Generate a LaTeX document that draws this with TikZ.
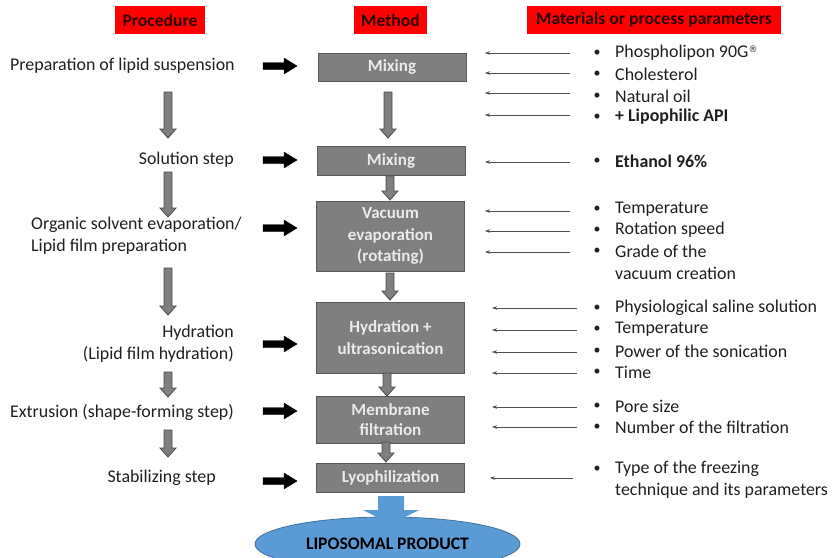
\documentclass[tikz,border=0pt]{standalone}
\usepackage{fontspec}
\setmainfont{Carlito}
\newfontfamily\symfnt{DejaVu Sans}
\usetikzlibrary{arrows.meta,shapes.geometric}
\definecolor{boxgray}{HTML}{7F7F7F}
\definecolor{boxedge}{HTML}{595959}
\definecolor{hdrred}{HTML}{FF0000}
\definecolor{hdrtxt}{HTML}{2A0000}
\definecolor{prodblue}{HTML}{5B9BD5}
\definecolor{prodedge}{HTML}{41719C}
\definecolor{thinline}{HTML}{505050}
\tikzset{
  hdr/.style={fill=hdrred,draw=none,inner sep=0pt,font=\fontsize{17.6}{20}\selectfont\bfseries,text=hdrtxt},
  methbox/.style={fill=boxgray,draw=boxedge,line width=1pt,inner sep=0pt,minimum width=148pt,align=center,
    font=\fontsize{17}{21.5}\selectfont\bfseries,text=white!92!black},
  proc/.style={inner sep=0pt,font=\fontsize{17.9}{22}\selectfont,text=black!88},
  item/.style={inner sep=0pt,anchor=west,font=\fontsize{17.9}{21}\selectfont,text=black!88},
  bul/.style={inner sep=0pt,font=\fontsize{14}{14}\selectfont,text=black!88},
  feed/.style={draw=thinline,line width=0.6pt,-{Stealth[length=5pt,width=3.5pt]}},
  garrow/.style={fill=boxgray,draw=black!70,line width=0.8pt},
  barrow/.style={fill=black,draw=black,line width=0.4pt},
  blarrow/.style={fill=prodblue,draw=none},
}
\newcommand\gdown[3]{\draw[garrow] ({#1-4},#2) -- ({#1+4},#2) -- ({#1+4},{#3-9}) -- ({#1+8},{#3-9}) -- (#1,#3) -- ({#1-8},{#3-9}) -- ({#1-4},{#3-9}) -- cycle;}
\newcommand\bright[1]{\draw[barrow] (263,{#1-3.5}) -- (284,{#1-3.5}) -- (284,{#1-8}) -- (297,#1) -- (284,{#1+8}) -- (284,{#1+3.5}) -- (263,{#1+3.5}) -- cycle;}
\begin{document}
\begin{tikzpicture}[x=1pt,y=-1pt]
\useasboundingbox (0,0) rectangle (834,557);
% headers
\node[hdr,minimum width=90pt,minimum height=28pt] (hproc) at (160,20) {Procedure};
\node[hdr,minimum width=73pt,minimum height=28pt] (hmeth) at (390.5,20) {Method};
\node[hdr,minimum width=254pt,minimum height=28pt] (hmat) at (654,20) {Materials or process parameters};
% method boxes
\node[methbox,minimum height=28pt] (m1) at (392,67) {Mixing};
\node[methbox,minimum height=29pt] (m2) at (391,160.5) {Mixing};
\node[methbox,minimum height=70pt] (m3) at (390.5,236) {Vacuum\\evaporation\\(rotating)};
\node[methbox,minimum height=71pt] (m4) at (390.5,337.5) {Hydration +\\ultrasonication};
\node[methbox,minimum height=47pt,font=\fontsize{17}{20}\selectfont\bfseries] (m5) at (390.5,419.5) {Membrane\\filtration};
\node[methbox,minimum height=29pt] (m6) at (390.5,477.5) {Lyophilization};
% product
\node[ellipse,fill=prodblue,draw=prodedge,line width=0.8pt,minimum width=265pt,minimum height=54pt,inner sep=0pt,
  font=\fontsize{17.6}{20}\selectfont\bfseries,text=black] (prod) at (387.5,544) {LIPOSOMAL PRODUCT};
\draw[blarrow] (378,496) -- (404,496) -- (404,510) -- (419,510) -- (391,524) -- (363,510) -- (378,510) -- cycle;
% method down arrows
\gdown{388}{92}{138}
\gdown{390}{176}{200}
\gdown{390}{273}{300}
\gdown{387}{373}{396}
\gdown{386}{442}{462}
% procedure texts
\node[proc,anchor=west] (p1) at (10,66) {Preparation of lipid suspension};
\node[proc,anchor=east] (p2) at (234,160) {Solution step};
\node[proc,anchor=west,align=left] (p3) at (31,236) {Organic solvent evaporation/\\Lipid film preparation};
\node[proc,anchor=east,align=right] (p4) at (234,344) {Hydration\\(Lipid film hydration)};
\node[proc,anchor=east] (p5) at (234,412) {Extrusion (shape-forming step)};
\node[proc,anchor=east] (p6) at (216,478) {Stabilizing step};
% procedure down arrows
\gdown{168}{92}{138}
\gdown{168}{172}{217}
\gdown{168}{268}{315}
\gdown{168}{372}{397}
\gdown{168}{430}{457}
% black arrows
\bright{66}
\bright{160}
\bright{228}
\bright{344}
\bright{411}
\bright{481}
% materials
\foreach \y/\t/\n in {53/{Phospholipon 90G\raisebox{5.5pt}{\symfnt\fontsize{9}{9}\selectfont ®}}/a1,74/Cholesterol/a2,96/Natural oil/a3,117/\textbf{+ Lipophilic API}/a4,
  161/\textbf{Ethanol 96\%}/b1,
  209/Temperature/c1,230/Rotation speed/c2,251/Grade of the/c3,
  308/Physiological saline solution/d1,329/Temperature/d2,351/Power of the sonication/d3,372/Time/d4,
  406/Pore size/e1,427/Number of the filtration/e2,469/Type of the freezing/f1}{
  \node[bul] (bul\n) at (597,\y) {\textbullet};
  \node[item] (\n) at (615,\y) {\t};
}
\node[item] (c4) at (615,273) {vacuum creation};
\node[item] (f2) at (615,491) {technique and its parameters};
% feed arrows
\foreach \y/\n in {53/fa1,73/fa2,93/fa3,115/fa4,162/fb1,211/fc1,231/fc2,252/fc3}{
  \coordinate (\n s) at (570,\y); \coordinate (\n e) at (485,\y);
  \draw[feed] (\n s) -- (\n e);
}
\foreach \y/\n in {308/fd1,330/fd2,352/fd3,373/fd4,407/fe1,427/fe2}{
  \coordinate (\n s) at (577,\y); \coordinate (\n e) at (492,\y);
  \draw[feed] (\n s) -- (\n e);
}
\coordinate (ff1s) at (573,478); \coordinate (ff1e) at (490,478);
\draw[feed] (ff1s) -- (ff1e);
\end{tikzpicture}
\end{document}
